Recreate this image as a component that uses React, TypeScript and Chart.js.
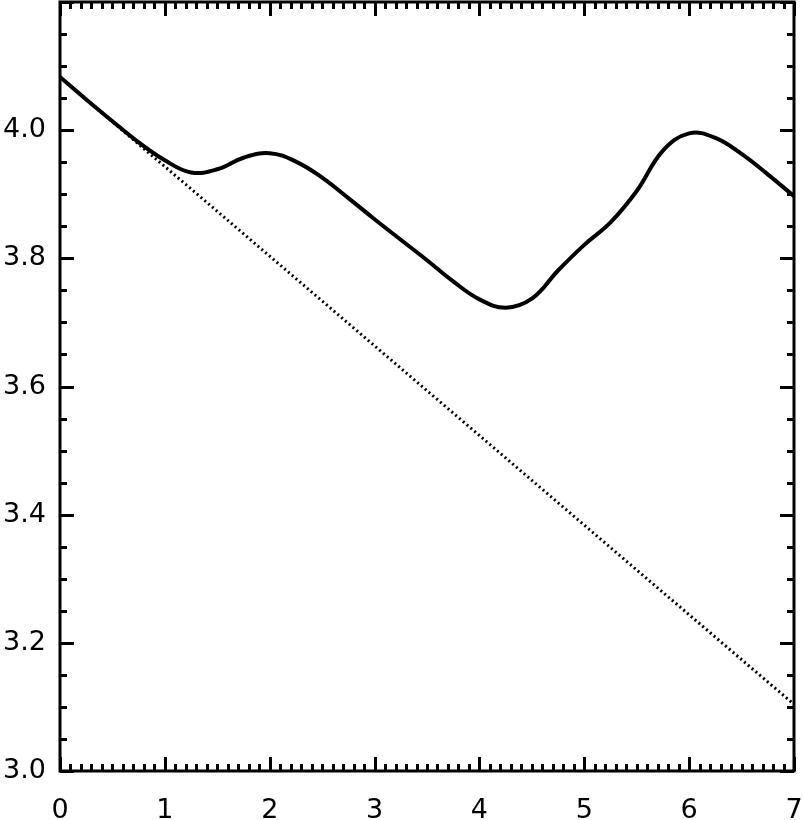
import React, { useEffect, useRef } from "react";
import { Chart, registerables } from "chart.js";

Chart.register(...registerables);

const curveX = [0, 0.25, 0.5, 0.75, 1.0, 1.25, 1.5, 1.75, 2.0, 2.25, 2.5, 2.75, 3.0, 3.25, 3.5, 3.75, 4.0, 4.25, 4.5, 4.75, 5.0, 5.25, 5.5, 5.75, 6.0, 6.25, 6.5, 6.75, 7.0];
const curveY = [4.083, 4.048, 4.014, 3.981, 3.953, 3.934, 3.939, 3.957, 3.964, 3.951, 3.926, 3.894, 3.861, 3.829, 3.797, 3.764, 3.736, 3.723, 3.737, 3.781, 3.821, 3.856, 3.905, 3.968, 3.995, 3.988, 3.963, 3.931, 3.897];
const lineX = [0, 7];
const lineY = [4.083, 3.104];

const xMin = 0, xMax = 7, xMajor = 1, xMinor = 0.1;
const yMin = 3.0, yMax = 4.2, yMajor = 0.2, yMinor = 0.05;
const yTickHidden = [4.2];

const frame = {
  id: "idlFrame",
  afterDatasetsDraw(chart: any) {
    const { ctx, chartArea: a, scales } = chart;
    const xs = scales.x, ys = scales.y;
    ctx.save();
    ctx.strokeStyle = "#000";
    ctx.lineWidth = 3;
    ctx.lineCap = "butt";
    const majL = 14, minL = 7;
    const nx = Math.round((xMax - xMin) / xMinor);
    for (let i = 0; i <= nx; i++) {
      const v = xMin + i * xMinor;
      const isMaj = Math.abs(v / xMajor - Math.round(v / xMajor)) < 1e-6;
      const p = Math.round(xs.getPixelForValue(v)) + 0.5;
      const L = isMaj ? majL : minL;
      ctx.beginPath();
      ctx.moveTo(p, a.bottom); ctx.lineTo(p, a.bottom - L);
      ctx.moveTo(p, a.top); ctx.lineTo(p, a.top + L);
      ctx.stroke();
    }
    const ny = Math.round((yMax - yMin) / yMinor);
    for (let i = 0; i <= ny; i++) {
      const v = yMin + i * yMinor;
      const isMaj = Math.abs((v - yMin) / yMajor - Math.round((v - yMin) / yMajor)) < 1e-6;
      const p = Math.round(ys.getPixelForValue(v)) + 0.5;
      const L = isMaj ? majL : minL;
      ctx.beginPath();
      ctx.moveTo(a.left, p); ctx.lineTo(a.left + L, p);
      ctx.moveTo(a.right, p); ctx.lineTo(a.right - L, p);
      ctx.stroke();
    }
    ctx.lineWidth = 3;
    ctx.strokeRect(a.left, a.top, a.right - a.left, a.bottom - a.top);
    ctx.restore();
  },
};

const zeroPad = (s: any) => {
  s.paddingLeft = 0;
  s.paddingRight = 0;
  s.paddingTop = 0;
  s.paddingBottom = 0;
};

export default function App() {
  const ref = useRef<HTMLCanvasElement | null>(null);
  useEffect(() => {
    if (!ref.current) return;
    const chart = new Chart(ref.current, {
      type: "line",
      data: {
        datasets: [
          {
            data: curveX.map((x, i) => ({ x, y: curveY[i] })),
            borderColor: "#000",
            borderWidth: 4,
            pointRadius: 0,
            tension: 0.4,
            fill: false,
          },
          {
            data: lineX.map((x, i) => ({ x, y: lineY[i] })),
            borderColor: "#000",
            borderWidth: 3,
            borderDash: [2, 3],
            pointRadius: 0,
            fill: false,
          },
        ],
      },
      options: {
        responsive: false,
        animation: false,
        layout: { padding: { top: 2, right: 9, left: 0, bottom: 0 } },
        plugins: { legend: { display: false }, tooltip: { enabled: false } },
        scales: {
          x: {
            type: "linear",
            min: xMin,
            max: xMax,
            grid: { display: false, drawTicks: false },
            border: { display: false },
            ticks: {
              stepSize: xMajor,
              color: "#000",
              padding: 24,
              font: { family: "DejaVu Sans", size: 27 },
              maxRotation: 0,
              autoSkip: false,
            },
            afterFit: (s: any) => { s.height = 49; zeroPad(s); },
          },
          y: {
            type: "linear",
            min: yMin,
            max: yMax,
            grid: { display: false, drawTicks: false },
            border: { display: false },
            ticks: {
              stepSize: yMajor,
              color: "#000",
              padding: 14,
              font: { family: "DejaVu Sans", size: 27 },
              autoSkip: false,
              callback: (v: any) => (yTickHidden.some((h) => Math.abs(h - v) < 1e-6) ? "" : Number(v).toFixed(1)),
            },
            afterFit: (s: any) => { s.width = 60; zeroPad(s); },
          },
        },
      },
      plugins: [frame],
    });
    return () => chart.destroy();
  }, []);
  return (
    <div style={{ position: "absolute", left: 0, top: 0, width: 803, height: 820, background: "#fff" }}>
      <canvas ref={ref} width={803} height={820} />
    </div>
  );
}
